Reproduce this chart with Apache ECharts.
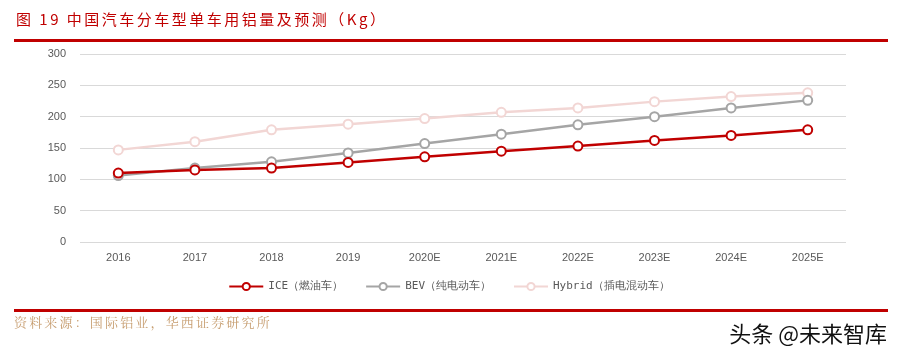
<!DOCTYPE html>
<html><head><meta charset="utf-8">
<script src="https://cdn.jsdelivr.net/npm/echarts@6/dist/echarts.min.js"></script>
<style>html,body{margin:0;padding:0;background:#fff}#c{width:898px;height:358px}</style>
</head><body><div id="c"></div>
<script>
const categories = ['2016','2017','2018','2019','2020E','2021E','2022E','2023E','2024E','2025E'];
const iceValues = [110, 115, 118, 127, 136, 145, 153, 162, 170, 179];
const bevValues = [106, 118, 128, 142, 157, 172, 187, 200, 214, 226];
const hybridValues = [147, 160, 179, 188, 197, 207, 214, 224, 232, 238];
const yTicks = [0, 50, 100, 150, 200, 250, 300];
const seriesNames = ['ICE（燃油车）', 'BEV（纯电动车）', 'Hybrid（插电混动车）'];
const colors = ['#c00000', '#a5a5a5', '#f2d6d4'];
const titleText = '图 19 中国汽车分车型单车用铝量及预测（Kg）';
const sourceText = '资料来源：国际铝业，华西证券研究所';
const watermarkText = '头条 @未来智库';

function spaced(s, sp) { return Array.from(s).join(sp); }

const chart = echarts.init(document.getElementById('c'));
function mk(name, data, color) {
  return {
    name, type: 'line', data,
    symbol: 'emptyCircle', symbolSize: 9,
    lineStyle: { color, width: 2.5 },
    itemStyle: { color, borderColor: color, borderWidth: 2 },
    emphasis: { disabled: true }
  };
}
chart.setOption({
  animation: false,
  grid: { left: 80, right: 52, top: 54, bottom: 116 },
  xAxis: {
    type: 'category', data: categories, boundaryGap: true,
    axisLine: { show: false }, axisTick: { show: false },
    axisLabel: { color: '#595959', fontSize: 11, fontFamily: 'Liberation Sans, Arial', margin: 10 }
  },
  yAxis: {
    type: 'value', min: yTicks[0], max: yTicks[yTicks.length - 1], interval: 50,
    axisLine: { show: false }, axisTick: { show: false },
    splitLine: { lineStyle: { color: '#d9d9d9', width: 1 } },
    axisLabel: { color: '#595959', fontSize: 11, fontFamily: 'Liberation Sans, Arial', margin: 14 }
  },
  legend: {
    top: 276, left: 'center',
    itemWidth: 34, itemHeight: 9, itemGap: 22,
    textStyle: { color: '#595959', fontSize: 11, fontFamily: 'DejaVu Sans Mono, monospace' },
    data: seriesNames
  },
  series: [
    mk(seriesNames[0], iceValues, colors[0]),
    mk(seriesNames[1], bevValues, colors[1]),
    mk(seriesNames[2], hybridValues, colors[2])
  ].reverse(),
  graphic: [
    { type: 'text', left: 16, top: 12, style: { text: spaced(titleText, '\u2006'), fill: '#c00000', font: '15px "Noto Sans CJK SC", sans-serif' } },
    { type: 'rect', shape: { x: 14, y: 39, width: 874, height: 3 }, style: { fill: '#c00000' } },
    { type: 'rect', shape: { x: 14, y: 309, width: 874, height: 3 }, style: { fill: '#c00000' } },
    { type: 'text', left: 14, top: 316, style: { text: spaced(sourceText, '\u2006'), fill: '#c69c6e', font: '13px "Noto Serif CJK SC", "Noto Sans CJK SC", serif' } },
    { type: 'text', right: 11, top: 323, style: { text: watermarkText, fill: '#111', font: '22px "Noto Sans CJK SC", sans-serif' } }
  ]
});
</script></body></html>
